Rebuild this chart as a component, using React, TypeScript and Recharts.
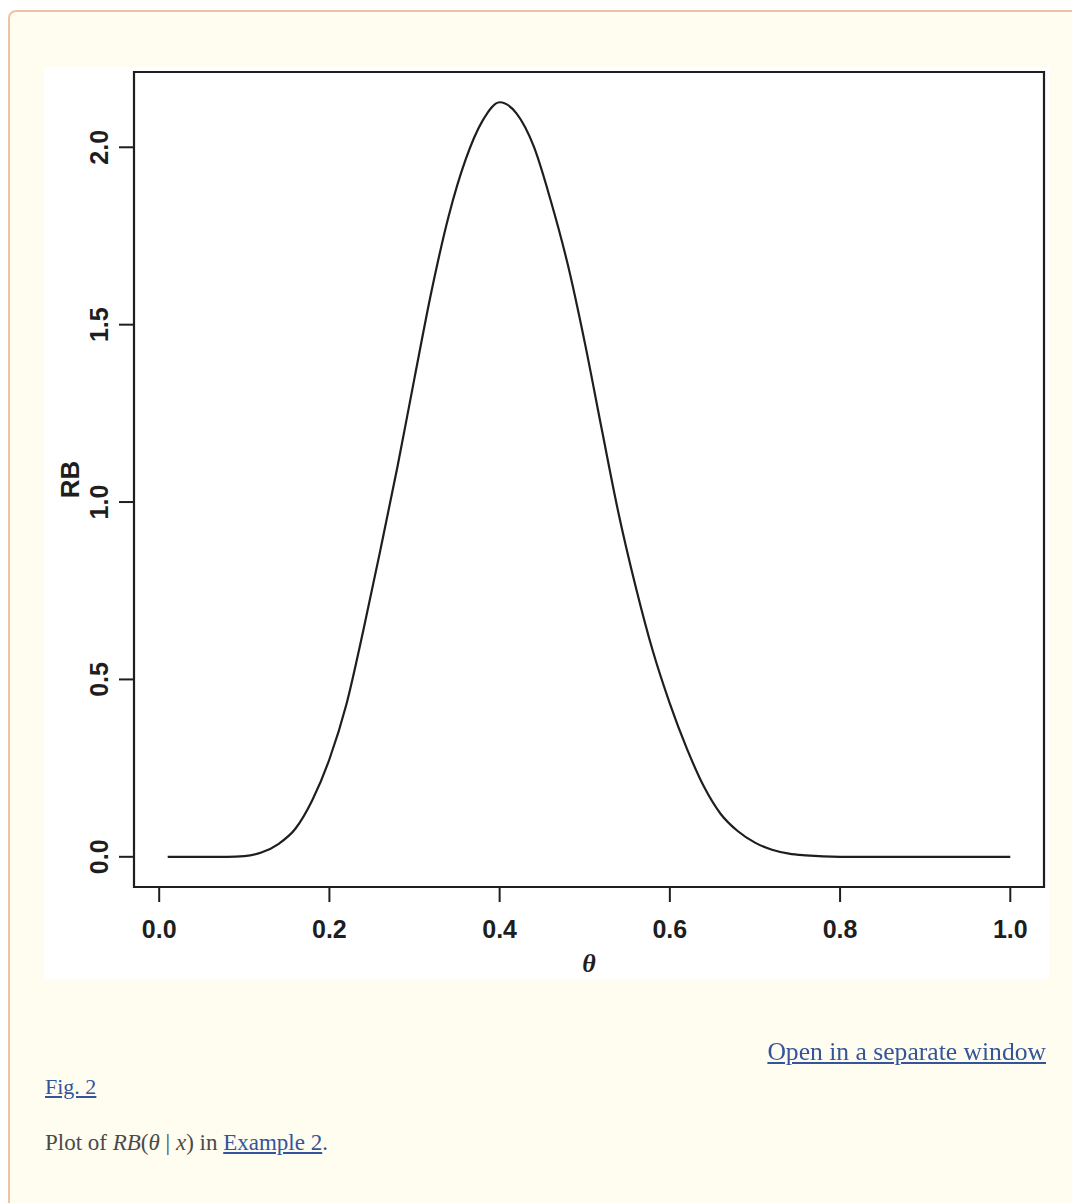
import React from 'react';
import { LineChart, Line, XAxis, YAxis, ReferenceArea, Label } from 'recharts';

// θ values
const thetaValues = [
  0.01, 0.04, 0.08, 0.10, 0.12, 0.14, 0.16, 0.18, 0.20, 0.22, 0.24, 0.26,
  0.28, 0.30, 0.32, 0.34, 0.36, 0.38, 0.40, 0.42, 0.44, 0.46, 0.48, 0.50,
  0.52, 0.54, 0.56, 0.58, 0.60, 0.62, 0.64, 0.66, 0.68, 0.70, 0.72, 0.74,
  0.76, 0.78, 0.80, 0.90, 1.00,
];
// RB(θ | x) values
const rbValues = [
  0, 0, 0, 0.002, 0.012, 0.036, 0.079, 0.16, 0.275, 0.43, 0.64, 0.866,
  1.10, 1.35, 1.595, 1.805, 1.965, 2.075, 2.127, 2.095, 2.003, 1.85, 1.67, 1.45,
  1.205, 0.965, 0.76, 0.58, 0.432, 0.305, 0.198, 0.12, 0.072, 0.04, 0.02, 0.009,
  0.004, 0.001, 0, 0, 0,
];
const xTicks = [0.0, 0.2, 0.4, 0.6, 0.8, 1.0];
const yTicks = [0.0, 0.5, 1.0, 1.5, 2.0];
const xDomain: [number, number] = [-0.0296, 1.0396];
const yDomain: [number, number] = [-0.0851, 2.2122];

const data = thetaValues.map((t, i) => ({ theta: t, rb: rbValues[i] }));

const AXIS_FONT = '"Liberation Sans", Arial, Helvetica, sans-serif';
const INK = '#1e1e1e';

const XTick = (props: any) => {
  const { x, y, payload } = props;
  return (
    <text x={x} y={y + 25} textAnchor="middle" dominantBaseline="central"
      fontFamily={AXIS_FONT} fontWeight="bold" fontSize={25} fill={INK}>
      {Number(payload.value).toFixed(1)}
    </text>
  );
};

const YTick = (props: any) => {
  const { y, payload } = props;
  const cx = 55;
  return (
    <text x={cx} y={y} transform={`rotate(-90, ${cx}, ${y})`} textAnchor="middle"
      dominantBaseline="central" fontFamily={AXIS_FONT} fontWeight="bold" fontSize={25} fill={INK}>
      {Number(payload.value).toFixed(1)}
    </text>
  );
};

const RBLabel = (props: any) => {
  const vb = props.viewBox || { x: 0, y: 5, width: 90, height: 815 };
  const cx = 26;
  const cy = vb.y + vb.height / 2;
  return (
    <text x={cx} y={cy} transform={`rotate(-90, ${cx}, ${cy})`} textAnchor="middle"
      dominantBaseline="central" fontFamily={AXIS_FONT} fontWeight="bold" fontSize={26} fill={INK}>
      RB
    </text>
  );
};

const ThetaLabel = (props: any) => {
  const vb = props.viewBox || { x: 90, y: 820, width: 910, height: 92 };
  const cx = vb.x + vb.width / 2;
  const cy = 896;
  return (
    <text x={cx} y={cy} textAnchor="middle" dominantBaseline="central"
      fontFamily='"Liberation Serif", "Times New Roman", serif' fontStyle="italic" fontWeight="bold"
      fontSize={26} fill={INK}>
      θ
    </text>
  );
};

const linkStyle: React.CSSProperties = {
  color: '#34559a',
  textDecoration: 'underline',
};

export default function App() {
  return (
    <div style={{ position: 'fixed', left: 0, top: 0, width: 1072, height: 1203, overflow: 'hidden',
      fontFamily: '"Liberation Serif", "Times New Roman", serif' }}>
      <div style={{ position: 'absolute', left: 8, top: 10, width: 1120, height: 1400,
        background: '#fffcf0', border: '2px solid #ecc3a7', borderRadius: 8, boxSizing: 'border-box' }}>
        <div style={{ position: 'absolute', left: 34, top: 55, width: 1005, height: 912, background: '#ffffff' }}>
          <LineChart width={1005} height={912} data={data}
            margin={{ top: 5, right: 5, left: 0, bottom: 0 }}>
            <XAxis dataKey="theta" type="number" domain={xDomain} ticks={xTicks}
              allowDataOverflow height={92} axisLine={false}
              tickLine={{ stroke: INK, strokeWidth: 2 }} tickSize={15} tick={<XTick />}
              interval={0}>
              <Label content={<ThetaLabel />} />
            </XAxis>
            <YAxis type="number" domain={yDomain} ticks={yTicks} allowDataOverflow width={90}
              axisLine={false} tickLine={{ stroke: INK, strokeWidth: 2 }} tickSize={15}
              tick={<YTick />} interval={0}>
              <Label content={<RBLabel />} />
            </YAxis>
            <ReferenceArea x1={xDomain[0]} x2={xDomain[1]} y1={yDomain[0]} y2={yDomain[1]}
              fill="none" fillOpacity={0} stroke={INK} strokeWidth={2.2} ifOverflow="visible" />
            <Line type="monotone" dataKey="rb" stroke={INK} strokeWidth={2.2} dot={false}
              isAnimationActive={false} />
          </LineChart>
        </div>
        <div style={{ position: 'absolute', left: 0, top: 1025, width: 1036, textAlign: 'right',
          fontSize: 25.6, lineHeight: '30px' }}>
          <span style={linkStyle}>Open in a separate window</span>
        </div>
        <div style={{ position: 'absolute', left: 35, top: 1061, fontSize: 22, lineHeight: '28px' }}>
          <span style={linkStyle}>Fig. 2</span>
        </div>
        <div style={{ position: 'absolute', left: 35, top: 1117, fontSize: 23, lineHeight: '28px', color: '#4a4a4a' }}>
          Plot of <i>RB</i>(<i>θ</i> | <i>x</i>) in <span style={linkStyle}>Example 2</span>.
        </div>
      </div>
    </div>
  );
}
